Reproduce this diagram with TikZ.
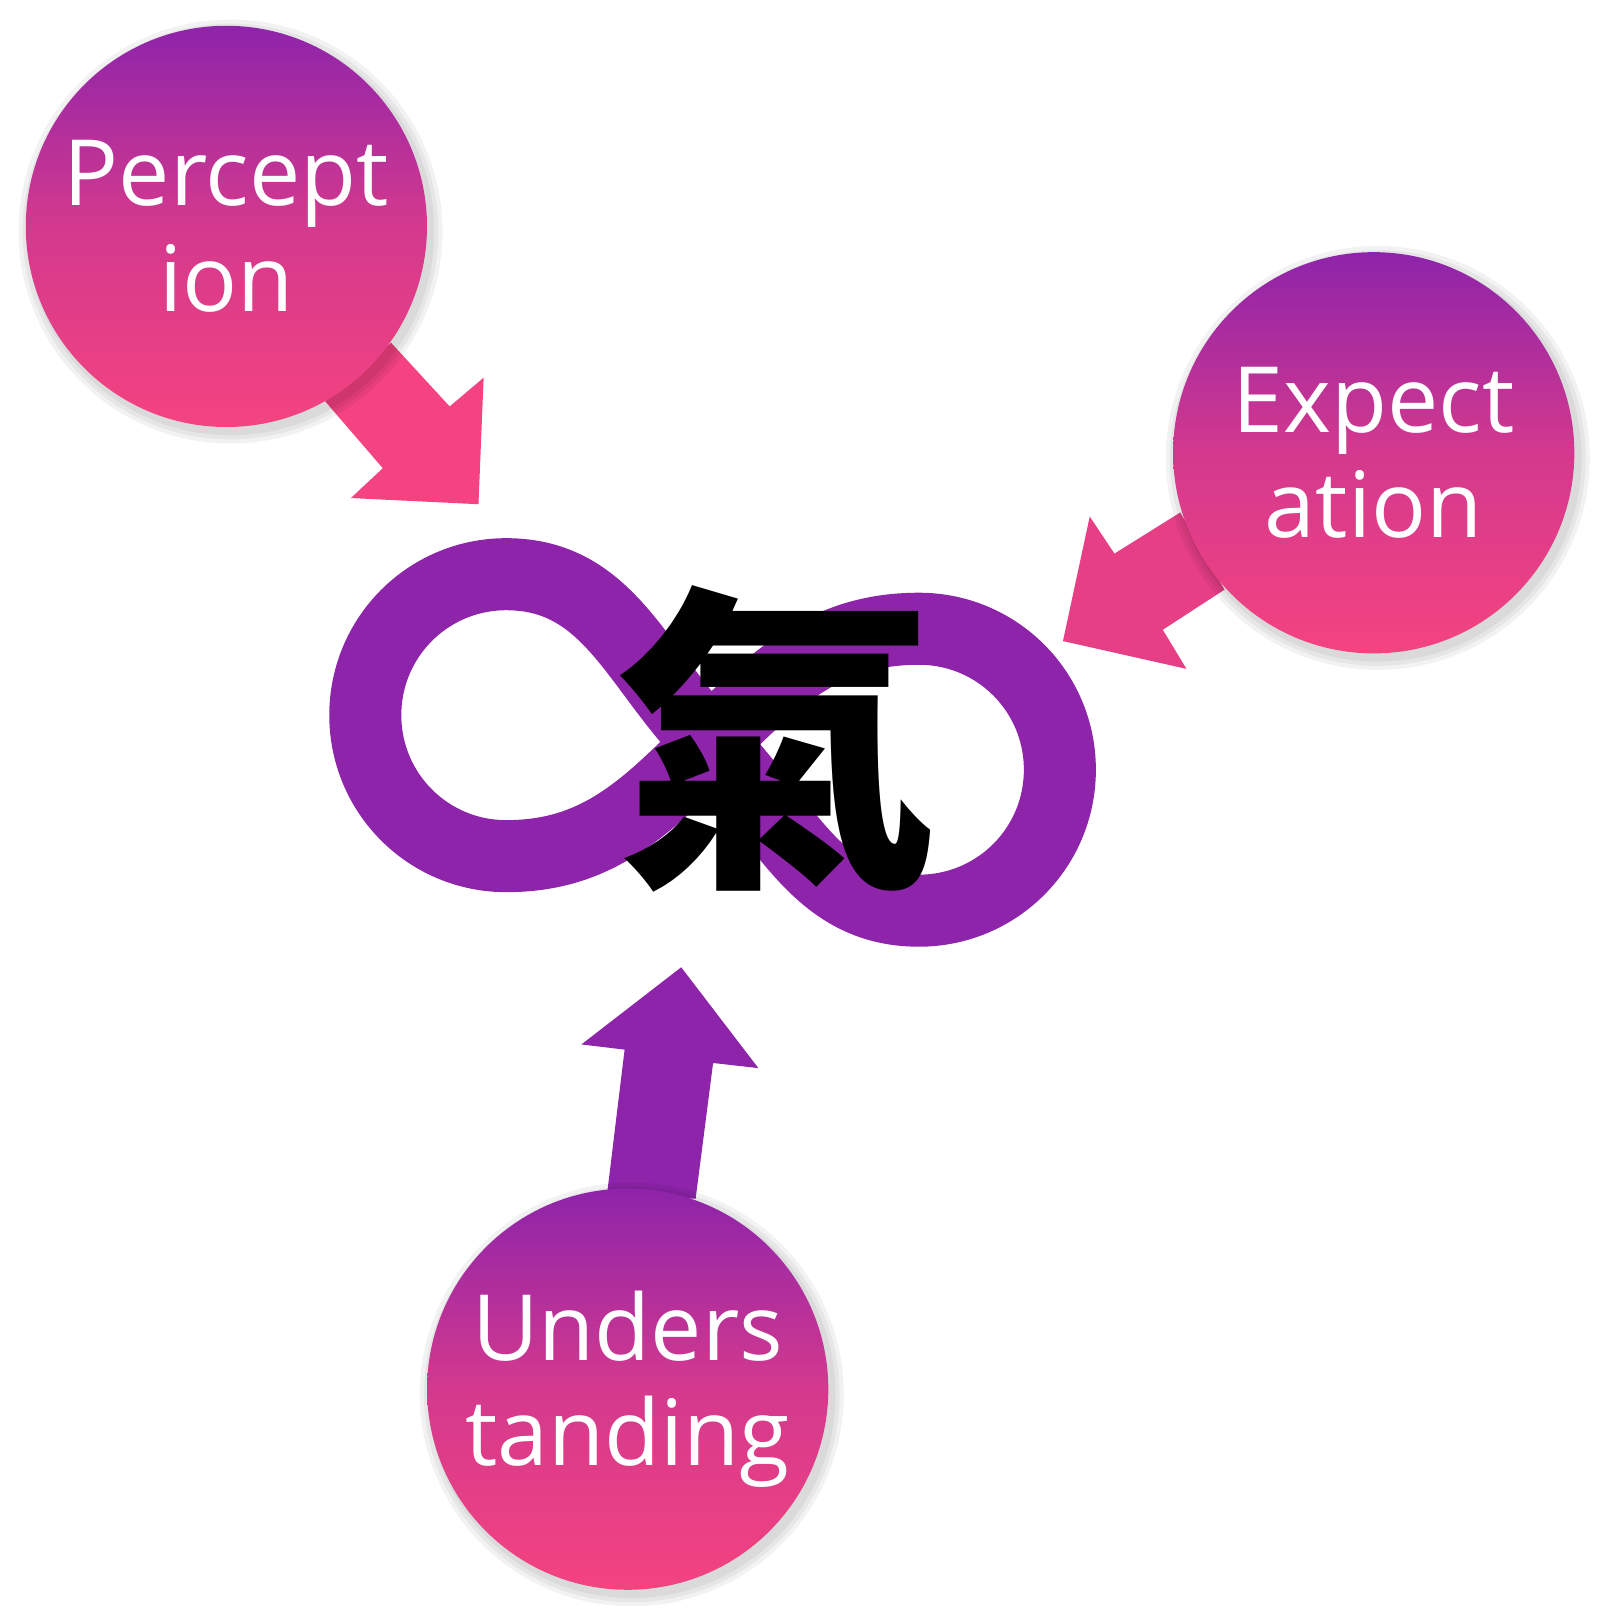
\documentclass[tikz,border=0pt]{standalone}
\usepackage{fontspec}
\setmainfont{Open Sans}
\newfontfamily\cjk{Noto Sans CJK TC}
\definecolor{vio}{HTML}{8E24AA}
\definecolor{pnk}{HTML}{F44380}
\begin{document}
\begin{tikzpicture}[x=0.01cm,y=-0.01cm,
  bub/.style={circle,minimum size=4.01cm,inner sep=0pt,top color=vio,bottom color=pnk,
    middle color=pnk!60!vio!80!pnk,
    text=white,font=\fontsize{26}{30}\selectfont,align=center}]
\useasboundingbox (0,0) rectangle (1600,1614);
\begin{scope}[scale=1.029]
% infinity
\coordinate (X) at (690,722);
\draw[vio,line width=0.72cm] (X) to[out=225,in=0] (492,832) to[out=180,in=270] (355,695)
  to[out=90,in=180] (492,558) to[out=0,in=135] (X) to[out=-45,in=180] (893,885)
  to[out=0,in=270] (1030,748) to[out=90,in=0] (893,611) to[out=180,in=45] (X);
% arrows
\fill[pnk] (380,333) -- (437,395) -- (470,367) -- (465,490) -- (341,484) -- (372,455) -- (316,390) -- cycle;
\fill[pnk!85!vio!90!pnk] (1147,498) -- (1083,538) -- (1059,502) -- (1033,623) -- (1153,650) -- (1130,612) -- (1190,573) -- cycle;
\fill[vio] (590,1160) -- (607,1020) -- (565,1015) -- (662,940) -- (737,1038) -- (693,1033) -- (676,1165) -- cycle;
% shadows
\foreach \c in {(220,220),(1335,440),(610,1350)} {
  \foreach \r in {206,202,198} {\fill[black,opacity=0.05] \c ++(4,5) circle (\r);}}
% bubbles
\node[bub] (p) at (220,220) {Percept\\ion};
\node[bub] (e) at (1335,440) {Expect\\ation};
\node[bub] (u) at (610,1350) {Unders\\tanding};
\node[font=\cjk\bfseries\fontsize{92}{92}\selectfont] (k) at (755,718) {氣};
\end{scope}
\end{tikzpicture}
\end{document}
